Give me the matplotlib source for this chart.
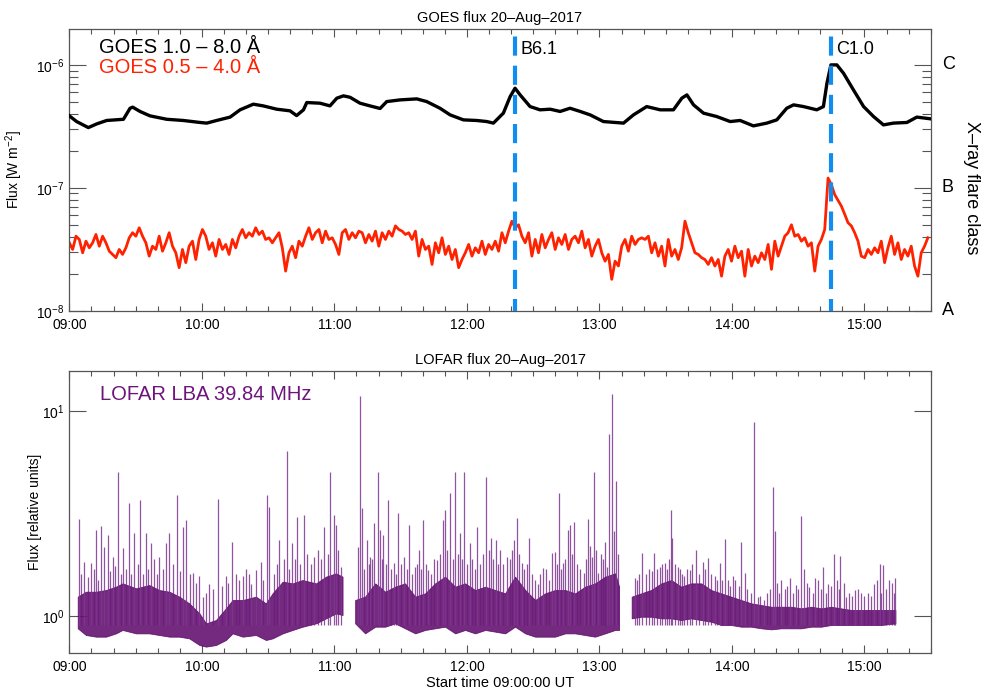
import numpy as np
import matplotlib
matplotlib.use("Agg")
import matplotlib.pyplot as plt
from matplotlib.ticker import FixedLocator, NullLocator, MultipleLocator

plt.rcParams['font.family'] = ['Liberation Sans', 'DejaVu Sans']
plt.rcParams['mathtext.fontset'] = 'custom'
plt.rcParams['mathtext.rm'] = 'Liberation Sans'
plt.rcParams['mathtext.it'] = 'Liberation Sans:italic'
plt.rcParams['mathtext.default'] = 'regular'

# ── data (time in minutes after 09:00 UT) ───────────────────────────────────────
# GOES 1.0-8.0 A, units of 1e-7 W m^-2
goes_long_t = [0, 3.3, 8.6, 12.4, 16.9, 24.5, 27.5, 28.7, 32.0, 36.5,
               44.1, 51.6, 59.2, 62.2, 66.7, 72.8, 77.3, 83.3, 87.8, 93.9,
               99.9, 102.9, 106.0, 107.5, 113.5, 118.0, 121.1, 124.1, 127.1, 131.6,
               136.1, 140.7, 143.7, 149.7, 157.3, 161.8, 167.8, 172.4, 178.4, 184.4,
               189.0, 192.0, 196.5, 199.6, 201.8, 204.1, 208.6, 213.1, 217.7, 222.2,
               226.7, 231.3, 235.8, 241.8, 250.9, 255.4, 261.4, 267.5, 273.5, 277.3,
               279.6, 282.6, 287.1, 293.1, 299.2, 303.7, 309.7, 315.8, 320.3, 324.8,
               327.9, 332.4, 338.4, 341.4, 343.0, 344.8, 347.5, 350.5, 355.0, 359.6,
               364.1, 368.6, 373.1, 379.2, 383.7, 390.0]
goes_long = [3.85, 3.46, 3.09, 3.31, 3.53, 3.61, 4.44, 4.53, 4.18, 3.85,
             3.61, 3.53, 3.40, 3.36, 3.53, 3.76, 4.31, 4.79, 4.64, 4.36,
             4.23, 3.87, 4.31, 4.94, 4.88, 4.64, 5.36, 5.60, 5.45, 4.88,
             4.64, 4.42, 5.03, 5.19, 5.29, 5.03, 4.44, 3.92, 3.57, 3.53,
             3.46, 3.36, 4.05, 5.53, 6.46, 5.70, 4.58, 4.31, 4.36, 4.18,
             4.44, 4.18, 3.92, 3.46, 3.36, 3.92, 4.58, 4.31, 4.31, 5.36,
             5.70, 4.73, 4.05, 3.80, 3.46, 3.53, 3.19, 3.36, 3.57, 4.44,
             4.73, 4.58, 4.31, 4.58, 7.09, 10.0, 10.0, 8.55, 6.26, 4.58,
             3.80, 3.25, 3.36, 3.40, 3.76, 3.64]

# GOES 0.5-4.0 A, units of 1e-8 W m^-2, regular 1.5 min cadence from 09:00
goes_short = [3.57, 3.15, 4.04, 3.80, 2.96, 3.68, 3.25, 3.57, 4.17, 3.35,
              4.04, 3.57, 3.05, 2.87, 2.70, 3.15, 2.87, 3.25, 3.92, 4.31,
              4.04, 4.73, 4.04, 3.57, 2.78, 3.35, 3.15, 4.04, 3.05, 3.57,
              4.31, 3.35, 2.96, 2.24, 3.15, 2.46, 3.35, 3.68, 2.61, 3.80,
              4.58, 4.04, 3.15, 3.57, 2.78, 3.80, 3.15, 3.46, 2.87, 3.80,
              3.25, 4.04, 4.58, 3.92, 4.31, 4.04, 4.73, 4.17, 4.44, 3.80,
              3.92, 3.57, 3.92, 4.31, 3.25, 2.10, 2.96, 3.35, 2.70, 3.68,
              3.35, 4.04, 4.73, 3.80, 4.31, 4.58, 3.57, 4.44, 3.80, 3.92,
              3.46, 2.87, 4.31, 4.58, 3.80, 4.31, 3.92, 4.44,
              4.31, 3.57, 4.17, 3.68, 4.44, 3.35, 4.31, 3.80, 4.44, 4.04,
              4.90, 4.58, 4.44, 4.17, 4.31, 3.80, 4.44, 2.78, 3.80, 3.15,
              3.35, 2.38, 3.57, 2.96, 3.92, 2.87, 3.35, 2.61, 3.15, 2.24,
              2.61, 2.96, 3.46, 2.78, 3.25, 2.96, 3.68, 2.87, 3.46, 3.15,
              3.68, 3.05, 4.31, 3.57, 4.44, 5.35, 4.73, 5.00, 4.04, 3.57,
              4.31, 2.78, 3.80, 2.96, 4.17, 3.25, 3.80, 4.31, 3.15, 3.92,
              3.46, 4.17, 3.15, 3.80, 4.04, 3.57, 4.44, 3.25, 3.80, 2.78,
              3.35, 3.80, 2.96, 2.53, 2.87, 1.80, 2.53, 2.31, 3.35, 3.80,
              3.05, 4.04, 3.46, 3.80, 3.92,
              3.80, 4.04, 2.96, 3.57, 2.78, 3.35, 2.31, 3.80, 2.78, 3.15,
              2.61, 3.25, 5.35, 4.31, 3.57, 2.96, 2.87, 2.70, 2.61, 2.38,
              2.70, 2.31, 2.61, 1.91, 2.78, 3.15, 2.53, 3.35, 2.70, 3.05,
              1.91, 3.15, 2.31, 2.78, 2.46, 2.96, 2.61, 3.46, 2.17, 3.68,
              2.78, 3.35, 4.04, 4.31, 5.00, 4.04, 4.17, 3.68, 3.92, 3.35,
              3.57, 2.10, 3.35, 3.80, 4.58, 12.0, 10.6, 8.8, 7.9, 7.1,
              6.1, 5.2, 4.9, 4.31, 3.68, 2.78, 2.70, 3.15, 2.87, 3.25,
              2.96, 3.68, 2.46, 3.25, 4.04, 2.87, 3.57, 2.61, 3.15, 2.78,
              3.35, 2.31, 1.91, 2.96, 3.35, 3.92]
goes_short_t0, goes_short_t1 = 0.0, 388.7

flare_times = [201.8, 344.8]
flare_names = ['B6.1', 'C1.0']

# LOFAR 39.84 MHz: envelope of the dense band, three observing segments
lofar_t = [
    [3.8, 7.5, 12.1, 16.6, 21.1, 24.1, 30.2, 36.2, 40.7, 45.3, 49.8, 54.3, 58.9, 61.9,
     66.4, 70.9, 73.9, 78.5, 84.5, 89.0, 92.0, 96.6, 101.1, 105.6, 111.7, 116.2, 120.7, 123.7],
    [129.4, 133.9, 138.5, 143.0, 147.5, 152.0, 156.6, 161.1, 165.6, 170.1, 174.7, 179.2, 183.7,
     188.3, 192.8, 197.3, 201.8, 206.4, 210.9, 215.4, 219.9, 224.5, 229.0, 233.5, 238.0, 242.6,
     247.1, 248.9],
    [254.6, 258.9, 263.4, 268.0, 272.5, 277.0, 281.5, 286.1, 290.6, 295.1, 299.6, 304.2, 308.7,
     313.2, 317.8, 322.3, 326.8, 331.3, 335.9, 340.4, 344.9, 349.4, 354.0, 358.5, 363.0, 367.5,
     374.0],
]
lofar_lo = [
    [0.871, 0.808, 0.793, 0.793, 0.823, 0.855, 0.823, 0.823, 0.808, 0.793, 0.793, 0.778, 0.722,
     0.709, 0.722, 0.764, 0.823, 0.793, 0.808, 0.764, 0.778, 0.823, 0.855, 0.887, 0.921, 0.974,
     1.030, 1.011],
    [0.921, 0.823, 0.887, 0.887, 0.921, 0.871, 0.823, 0.855, 0.871, 0.887, 0.823, 0.855, 0.823,
     0.855, 0.839, 0.823, 0.887, 0.823, 0.793, 0.793, 0.793, 0.823, 0.823, 0.808, 0.793, 0.823,
     0.855, 0.855],
    [0.974, 0.992, 0.992, 0.974, 0.974, 0.956, 0.974, 0.956, 0.938, 0.904, 0.904, 0.887, 0.887,
     0.871, 0.861, 0.871, 0.871, 0.871, 0.887, 0.887, 0.904, 0.904, 0.904, 0.904, 0.904, 0.904,
     0.921],
]
lofar_hi = [
    [1.243, 1.314, 1.314, 1.339, 1.390, 1.443, 1.365, 1.416, 1.339, 1.314, 1.243, 1.153, 1.030,
     0.921, 0.956, 1.090, 1.197, 1.197, 1.243, 1.153, 1.290, 1.471, 1.443, 1.498, 1.443, 1.556,
     1.615, 1.556],
    [1.197, 1.243, 1.443, 1.314, 1.390, 1.443, 1.243, 1.290, 1.443, 1.556, 1.390, 1.443, 1.339,
     1.390, 1.339, 1.290, 1.556, 1.339, 1.197, 1.290, 1.339, 1.339, 1.290, 1.390, 1.443, 1.556,
     1.615, 1.390],
    [1.243, 1.290, 1.339, 1.443, 1.498, 1.390, 1.443, 1.443, 1.339, 1.290, 1.243, 1.197, 1.153,
     1.131, 1.110, 1.110, 1.110, 1.090, 1.110, 1.090, 1.110, 1.090, 1.070, 1.070, 1.070, 1.070,
     1.070],
]

# LOFAR bursts: time (min) and peak flux (relative units)
burst_t = [4.2, 6.8, 9.8, 12.1, 14.3, 15.8, 17.4, 19.6, 22.2, 24.1, 26.9, 29.4, 32.1, 34.7,
           37.0, 40.7, 43.8, 45.3, 48.7, 51.3, 52.8, 56.1, 58.9, 60.4, 63.1, 67.2, 70.9, 73.5,
           78.5, 82.2, 84.5, 86.8, 89.3, 90.5, 95.1, 98.4, 100.8, 103.1, 106.4, 110.9, 115.4,
           118.2, 119.7, 120.7, 123.0,
           130.9, 131.7, 132.4, 134.7, 136.2, 138.0, 139.7, 140.7, 142.2, 144.2, 147.2, 149.0,
           151.7, 153.8, 156.6, 158.1, 160.3, 162.3, 166.4, 169.4, 170.1, 172.4, 174.7, 176.9,
           178.9, 181.2, 184.5, 188.7, 191.0, 193.1, 195.0, 198.1, 201.1, 202.9, 204.9, 208.2,
           212.1, 214.4, 218.4, 219.9, 221.8, 223.7, 225.7, 226.7, 228.5, 232.8, 234.9, 236.5,
           237.7, 239.3, 243.3, 244.4, 245.9, 247.4,
           255.9, 259.4, 264.6, 267.2, 269.5, 272.2, 272.8, 275.5, 278.5, 280.8, 283.8, 286.8,
           289.1, 292.1, 294.4, 296.9, 300.4, 304.2, 305.7, 309.8, 311.7, 314.7, 318.4, 319.3,
           322.3, 326.1, 329.1, 331.3, 332.4, 335.1, 337.7, 341.4, 343.4, 346.1, 349.1, 351.7,
           355.5, 358.5, 364.5, 366.8, 368.3, 371.3, 374.0]
burst_peak = [2.99, 1.84, 1.81, 2.63, 2.75, 2.18, 2.48, 1.95, 5.06, 2.14, 3.54, 2.53, 3.68, 2.53,
              2.26, 1.95, 2.26, 2.53, 3.89, 2.73, 2.94, 1.62, 1.56, 1.24, 1.44, 3.71, 1.56, 2.30,
              1.56, 1.44, 1.68, 1.84, 3.89, 3.41, 2.35, 6.38, 2.26, 3.05, 3.11, 1.95, 2.73,
              5.06, 3.11, 2.78, 1.74,
              2.18, 11.8, 3.35, 2.35, 1.95, 2.83, 5.06, 2.63, 2.48, 3.68, 1.81, 3.17,
              1.95, 2.78, 1.74, 2.10, 2.94, 1.68, 1.88, 2.94, 3.29, 3.97, 5.06, 2.53,
              5.06, 2.26, 2.73, 4.78, 2.39, 2.35, 2.10, 1.95, 2.35, 3.02, 1.81, 2.39,
              1.44, 1.71, 2.02, 2.06, 3.97, 1.81, 2.63, 2.78, 2.86, 1.62, 2.96, 1.95,
              5.04, 1.62, 1.74, 7.72, 12.1, 4.55,
              1.53, 2.02, 2.04, 1.74, 1.81, 3.29, 2.39, 1.74, 1.56, 1.68, 2.10, 1.84,
              1.91, 1.56, 1.81, 2.37, 1.56, 2.29, 1.62, 8.87, 1.24, 1.20, 4.27, 2.60,
              1.50, 1.53, 1.42, 3.09, 1.70, 1.39, 1.53, 1.74, 1.44, 2.01, 1.97, 1.24,
              1.34, 1.29, 1.44, 1.79, 1.77, 1.50, 1.53]

# smaller bursts sitting on top of the band
minor_t = [5.5, 8.3, 11.0, 13.2, 18.5, 20.8, 23.2, 25.5, 28.0, 31.0, 33.4, 35.8, 38.5, 39.8,
           42.2, 46.8, 50.0, 54.5, 57.5, 62.0, 65.0, 69.0, 72.0, 75.5, 77.0, 80.0, 81.5, 87.8,
           92.5, 94.0, 97.0, 99.5, 102.0, 104.5, 107.8, 109.5, 112.5, 114.0, 117.0, 121.8,
           133.3, 135.5, 137.0, 141.5, 143.2, 145.5, 148.0, 150.3, 152.7, 155.0, 157.3, 159.2,
           161.3, 163.8, 165.2, 167.8, 171.2, 173.5, 175.8, 177.9, 180.0, 182.5, 183.6, 186.0,
           187.5, 189.8, 192.0, 194.0, 196.5, 199.5, 200.5, 203.8, 206.0, 207.3, 209.5, 211.0,
           213.2, 216.0, 217.2, 220.8, 222.7, 224.6, 227.6, 229.8, 231.0, 233.8, 235.8, 238.5,
           240.5, 241.8, 242.6, 246.5, 248.3,
           256.8, 258.0, 261.0, 262.5, 263.8, 266.0, 268.3, 270.8, 271.5, 274.0, 276.5, 277.5,
           279.5, 282.0, 285.0, 288.0, 290.5, 293.3, 295.5, 298.0, 299.0, 301.5, 303.0, 307.0,
           308.5, 312.8, 316.0, 317.0, 320.5, 321.5, 324.0, 325.0, 327.5, 330.0, 333.8, 336.5,
           339.0, 340.2, 342.5, 344.8, 347.5, 348.3, 350.5, 353.0, 354.5, 357.0, 360.0, 361.5,
           363.0, 365.5, 367.5, 369.8, 372.5, 373.2]
minor_peak = [1.6, 1.55, 1.7, 1.5, 1.65, 1.75, 1.6, 1.7, 1.6, 1.8, 1.6, 1.7, 1.9, 1.6,
              1.7, 1.8, 1.65, 1.6, 1.45, 1.3, 1.35, 1.4, 1.45, 1.6, 1.5, 1.7, 1.6, 1.5,
              1.6, 1.8, 1.9, 1.7, 1.9, 1.8, 2.0, 1.8, 2.1, 1.9, 2.0, 2.1,
              1.7, 1.8, 1.9, 1.9, 1.8, 1.7, 1.6, 1.8, 1.7, 1.6, 1.8, 1.7,
              1.8, 1.6, 1.9, 2.0, 2.1, 1.9, 2.0, 1.9, 1.8, 1.9, 1.7, 1.8,
              2.0, 2.1, 1.9, 1.8, 1.8, 1.9, 2.1, 2.0, 1.7, 1.8, 1.6, 1.5,
              1.6, 1.7, 1.5, 1.8, 1.7, 1.9, 2.0, 1.8, 1.7, 1.9, 2.2, 2.1,
              2.0, 1.9, 2.3, 2.6, 2.0,
              1.5, 1.6, 1.6, 1.7, 1.65, 1.7, 1.8, 1.7, 1.9, 1.8, 1.7, 1.6,
              1.7, 1.8, 1.6, 1.7, 1.6, 1.5, 1.5, 1.5, 1.4, 1.5, 1.4, 1.35,
              1.3, 1.25, 1.3, 1.35, 1.45, 1.3, 1.35, 1.4, 1.3, 1.35, 1.45, 1.3,
              1.5, 1.35, 1.3, 1.4, 1.5, 1.35, 1.45, 1.3, 1.25, 1.35, 1.25, 1.3,
              1.25, 1.5, 1.3, 1.35, 1.45, 1.3]

hour_labels = ['09:00', '10:00', '11:00', '12:00', '13:00', '14:00', '15:00']

# ── styles ─────────────────────────────────────────────────────────────────────
RED = '#ff2200'
BLUE = '#118df0'
PURPLE = '#5c0569'
PURPLE_TXT = '#6e157c'
SPINE = '#555555'


def style_time_axis(ax):
    ax.set_xlim(0, 390)
    ax.xaxis.set_major_locator(FixedLocator(np.arange(0, 361, 60)))
    ax.set_xticklabels(hour_labels)
    ax.xaxis.set_minor_locator(MultipleLocator(10))
    ax.tick_params(axis='x', which='major', direction='in', length=6, width=0.8,
                   top=True, labelsize=10, pad=5, color=SPINE)
    ax.tick_params(axis='x', which='minor', direction='in', length=3.5, width=0.8,
                   top=True, color=SPINE)
    for s in ax.spines.values():
        s.set_color(SPINE)
        s.set_linewidth(0.9)


fig = plt.figure(figsize=(9.89, 6.9), dpi=100)
ax1 = fig.add_axes([0.0701, 0.5497, 0.8710, 0.4087])
ax2 = fig.add_axes([0.0701, 0.0532, 0.8710, 0.4096])

# ── GOES panel ─────────────────────────────────────────────────────────────────
t_short = np.linspace(goes_short_t0, goes_short_t1, len(goes_short))
ax1.plot(t_short, np.array(goes_short) * 1e-8, color=RED, lw=2.0, zorder=2)
ax1.plot(goes_long_t, np.array(goes_long) * 1e-7, color='black', lw=2.4, zorder=3)

ax1.set_yscale('log')
ax1.set_ylim(1e-8, 1.97e-6)
for ft, fn in zip(flare_times, flare_names):
    ax1.plot([ft, ft], [1.97e-6, 1e-8], color=BLUE, lw=3.0,
             linestyle=(5.2, (4.6, 2.4)), solid_capstyle='butt',
             dash_capstyle='butt', zorder=4)
    ax1.annotate(fn, xy=(ft, 0.9245), xycoords=('data', 'axes fraction'),
                 xytext=(4, 0), textcoords='offset points', fontsize=13,
                 va='center', ha='left')

ax1.yaxis.set_major_locator(FixedLocator([1e-8, 1e-7, 1e-6]))
ax1.set_yticklabels([r'$10^{-8}$', r'$10^{-7}$', r'$10^{-6}$'])
minors = [m * 10.0 ** e for e in (-8, -7, -6) for m in range(2, 10)]
ax1.yaxis.set_minor_locator(FixedLocator(minors))
ax1.tick_params(axis='y', which='major', direction='in', length=12, width=0.8,
                right=True, labelsize=10, color=SPINE)
ax1.tick_params(axis='y', which='minor', direction='in', length=6.5, width=0.8,
                right=True, color=SPINE)
style_time_axis(ax1)

ax1.set_ylabel(r'Flux [W m$^{-2}$]', fontsize=10)
ax1.yaxis.set_label_coords(-0.051, 0.5)
ax1.set_title('GOES flux 20\u2013Aug\u20132017', fontsize=10.5, pad=5)

ax1.text(0.035, 0.935, 'GOES 1.0 \u2013 8.0 \u00c5', transform=ax1.transAxes,
         fontsize=14.5, color='black', va='center', ha='left')
ax1.text(0.035, 0.8635, 'GOES 0.5 \u2013 4.0 \u00c5', transform=ax1.transAxes,
         fontsize=14.5, color=RED, va='center', ha='left')

trans = ax1.get_yaxis_transform()
for lvl, cls in zip([1e-6, 1e-7, 1e-8], ['C', 'B', 'A']):
    ax1.text(1.0128, lvl, cls, transform=trans, fontsize=13, va='center', ha='left')
ax1.text(1.0476, 0.435, 'X\u2013ray flare class', transform=ax1.transAxes,
         fontsize=13, rotation=270, va='center', ha='center')

# ── LOFAR panel ────────────────────────────────────────────────────────────────
for tt, lo, hi in zip(lofar_t, lofar_lo, lofar_hi):
    ax2.fill_between(tt, lo, hi, color=PURPLE, lw=0.6, edgecolor=PURPLE,
                     alpha=0.85, zorder=2)
ax2.vlines(minor_t, 0.9, minor_peak, color='#6a1a7c', lw=0.9, alpha=0.75, zorder=3)
ax2.vlines(burst_t, 0.9, burst_peak, color='#7d3590', lw=0.9, alpha=0.85, zorder=3)

ax2.set_yscale('log')
ax2.set_ylim(0.658, 15.73)
ax2.yaxis.set_major_locator(FixedLocator([1, 10]))
ax2.set_yticklabels([r'$10^{0}$', r'$10^{1}$'])
ax2.yaxis.set_minor_locator(NullLocator())
ax2.tick_params(axis='y', which='major', direction='in', length=12, width=0.8,
                right=True, labelsize=10, color=SPINE)
style_time_axis(ax2)

ax2.set_ylabel('Flux [relative units]', fontsize=10)
ax2.yaxis.set_label_coords(-0.032, 0.5)
ax2.set_title('LOFAR flux 20\u2013Aug\u20132017', fontsize=10.5, pad=5)
ax2.set_xlabel('Start time 09:00:00 UT', fontsize=10.5, labelpad=1)
ax2.text(0.0353, 0.914, 'LOFAR LBA 39.84 MHz', transform=ax2.transAxes,
         fontsize=14.5, color=PURPLE_TXT, va='center', ha='left')

fig.savefig('out.png', dpi=100)
